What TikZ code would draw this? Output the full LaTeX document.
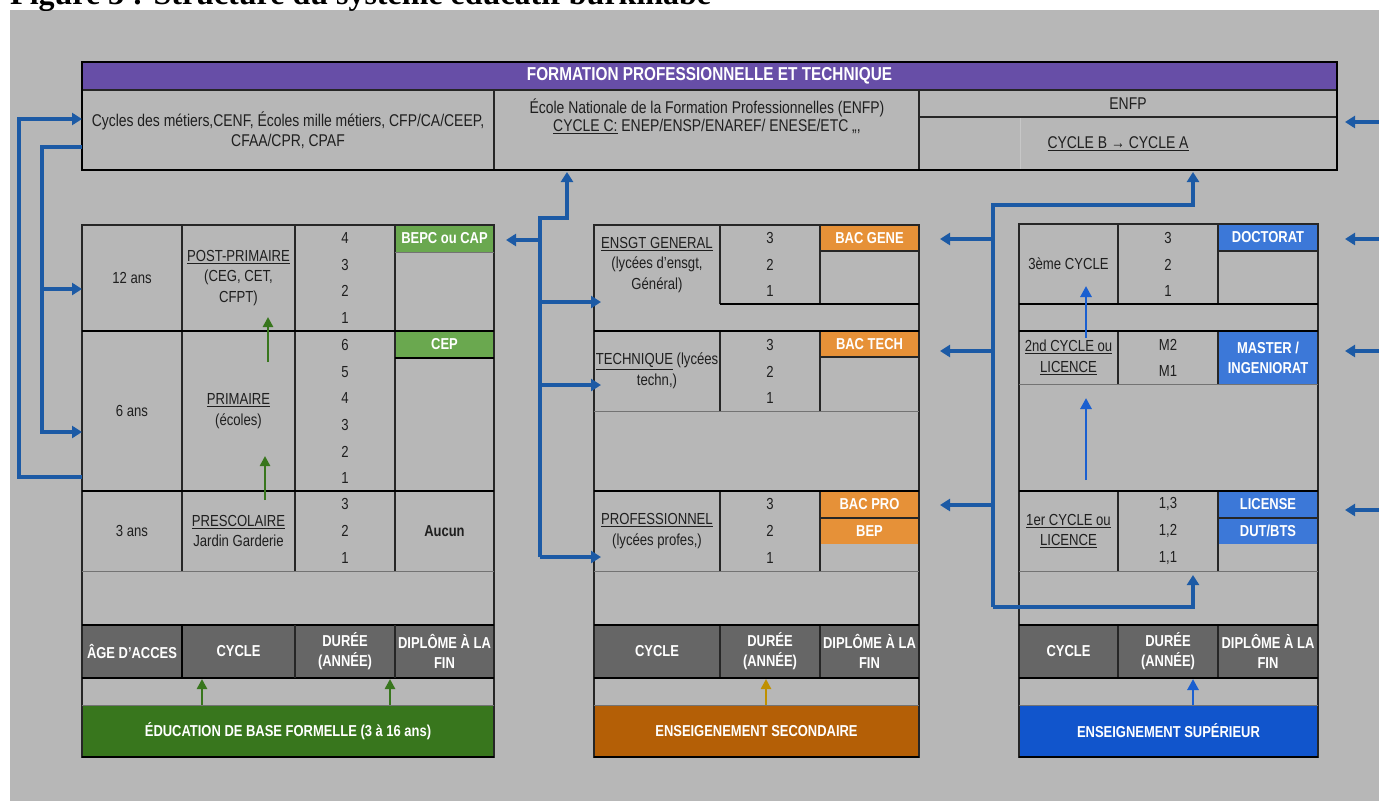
\documentclass[tikz,border=0pt]{standalone}
\usepackage{fontspec}
\setmainfont{Liberation Sans}[FakeStretch=0.82]
\newfontfamily\titlefont{Liberation Serif}
\usetikzlibrary{arrows.meta,calc}
\definecolor{bgc}{HTML}{B7B7B7}
\definecolor{dhead}{HTML}{666666}
\definecolor{purp}{HTML}{674EA7}
\definecolor{dgreen}{HTML}{6AA84F}
\definecolor{dorange}{HTML}{E69138}
\definecolor{dblue}{HTML}{3C78D8}
\definecolor{fgreen}{HTML}{38761D}
\definecolor{forange}{HTML}{B45F06}
\definecolor{fblue}{HTML}{1155CC}
\definecolor{cblue}{HTML}{1C5AA5}
\definecolor{bblue}{HTML}{1A5FD0}
\definecolor{gold}{HTML}{BF9000}
\definecolor{txt}{HTML}{1F1F1F}
\newcommand\ntext{\fontsize{16}{20.5}\selectfont}
\newcommand\ftext{\fontsize{17}{20}\selectfont}
\newcommand\numtext{\fontsize{16}{26.7}\selectfont}
\newcommand\btext{\bfseries\fontsize{15.8}{20}\selectfont}
\newcommand\mkcell[7][]{%
  \node[cellbase,#1,minimum width={(#5-#3)*1pt},minimum height={(#6-#4)*1pt}]
    (#2) at ({(#3+#5)/2},{(#4+#6)/2}) {#7};}
\tikzset{
  cellbase/.style={inner sep=0pt,outer sep=0pt,align=center,font=\ntext,text=txt},
  wtext/.style={text=white,font=\btext},
  lbl/.style={inner sep=0pt,align=center,font=\ntext,text=txt},
  nums/.style={inner sep=0pt,align=center,font=\numtext,text=txt},
  thk/.style={line width=2pt,draw=black},
  mid/.style={line width=1.3pt,draw=black!85},
  thn/.style={line width=1pt,draw=black!55},
  conn/.style={draw=cblue,line width=3.2pt},
  arr/.style={-{Triangle[length=10pt,width=12pt]}},
  garr/.style={draw=fgreen,line width=2.6pt,-{Triangle[length=10pt,width=10pt]}},
  oarr/.style={draw=gold,line width=2.6pt,-{Triangle[length=10pt,width=10pt]}},
  barr/.style={draw=bblue,line width=2.8pt,-{Triangle[length=11pt,width=11pt]}},
}
\begin{document}
\begin{tikzpicture}[x=1pt,y=-1pt]
\useasboundingbox (0,0) rectangle (1379,801);
\fill[white] (0,0) rectangle (1379,801);
\fill[bgc] (10,10) rectangle (1379,801);
\begin{scope}
\clip (0,0) rectangle (1379,10);
\node[anchor=base west,inner sep=0pt,font=\titlefont\bfseries\fontsize{32}{36}\selectfont] (title) at (10,4.5) {\underline{Figure 3} : Structure du système éducatif burkinabè};
\end{scope}

% ---------------- FPT box
\mkcell[fill=purp,text=white,font=\bfseries\fontsize{18.7}{21}\selectfont]{fptH}{82}{62}{1337}{90}{FORMATION PROFESSIONNELLE ET TECHNIQUE}
\mkcell[font=\ftext]{fptL}{82}{90}{494}{170}{Cycles des métiers,CENF, Écoles mille métiers, CFP/CA/CEEP,\\CFAA/CPR, CPAF}
\mkcell{fptM}{494}{90}{919}{170}{}
\node[lbl,font=\fontsize{17}{18}\selectfont] (fptMt) at (707,116) {École Nationale de la Formation Professionnelles (ENFP)\\\underline{CYCLE C:} ENEP/ENSP/ENAREF/ ENESE/ETC ,,,};
\mkcell[font=\ftext]{fptR1}{919}{90}{1337}{117}{ENFP}
\mkcell{fptR2}{919}{117}{1337}{170}{}
\node[lbl,font=\ftext] (fptR2t) at (1118,144) {\underline{CYCLE B → CYCLE A}};

% ---------------- Left block
\mkcell{l_age1}{82}{225}{182}{331}{12 ans}
\mkcell{l_age2}{82}{331}{182}{491}{6 ans}
\mkcell{l_age3}{82}{491}{182}{571}{3 ans}
\mkcell{l_cyc1}{182}{225}{295}{331}{\underline{POST-PRIMAIRE}\\(CEG, CET,\\CFPT)}
\mkcell{l_cyc2}{182}{331}{295}{491}{\underline{PRIMAIRE}\\(écoles)}
\mkcell{l_cyc3}{182}{491}{295}{571}{\underline{PRESCOLAIRE}\\Jardin Garderie}
\mkcell{l_dur}{295}{225}{395}{571}{}
\node[nums] (l_n1) at (345,278) {4\\3\\2\\1};
\node[nums] (l_n2) at (345,411.5) {6\\5\\4\\3\\2\\1};
\node[nums] (l_n3) at (345,531) {3\\2\\1};
\mkcell[fill=dgreen,wtext]{l_dip1}{395}{225}{494}{252}{BEPC ou CAP}
\mkcell[fill=dgreen,wtext]{l_dip2}{395}{331}{494}{358}{CEP}
\mkcell[font=\btext]{l_dip3}{395}{491}{494}{571}{Aucun}
\mkcell[fill=dhead,wtext]{lh1}{82}{625}{182}{678}{ÂGE D'ACCES}
\mkcell[fill=dhead,wtext]{lh2}{182}{625}{295}{678}{CYCLE}
\mkcell[fill=dhead,wtext]{lh3}{295}{625}{395}{678}{DURÉE\\(ANNÉE)}
\mkcell[fill=dhead,wtext]{lh4}{395}{625}{494}{678}{DIPLÔME À LA\\FIN}
\mkcell[fill=fgreen,wtext]{l_foot}{82}{705}{494}{757}{ÉDUCATION DE BASE FORMELLE (3 à 16 ans)}

% ---------------- Middle block
\mkcell{m_cyc1}{594}{225}{720}{331}{}
\node[lbl] (m_cyc1t) at (657,265) {\underline{ENSGT GENERAL}\\(lycées d'ensgt,\\Général)};
\mkcell{m_cyc2}{594}{331}{720}{411}{\underline{TECHNIQUE} (lycées\\techn,)}
\mkcell{m_cyc3}{594}{491}{720}{571}{\underline{PROFESSIONNEL}\\(lycées profes,)}
\node[nums] (m_n1) at (770,264.5) {3\\2\\1};
\node[nums] (m_n2) at (770,371.5) {3\\2\\1};
\node[nums] (m_n3) at (770,531) {3\\2\\1};
\mkcell[fill=dorange,wtext]{m_dip1}{820}{225}{919}{251}{BAC GENE}
\mkcell[fill=dorange,wtext]{m_dip2}{820}{331}{919}{357}{BAC TECH}
\mkcell[fill=dorange,wtext]{m_dip3}{820}{491}{919}{518}{BAC PRO}
\mkcell[fill=dorange,wtext]{m_dip4}{820}{518}{919}{544}{BEP}
\mkcell[fill=dhead,wtext]{mh1}{594}{625}{720}{678}{CYCLE}
\mkcell[fill=dhead,wtext]{mh2}{720}{625}{820}{678}{DURÉE\\(ANNÉE)}
\mkcell[fill=dhead,wtext]{mh3}{820}{625}{919}{678}{DIPLÔME À LA\\FIN}
\mkcell[fill=forange,wtext]{m_foot}{594}{705}{919}{757}{ENSEIGENEMENT SECONDAIRE}

% ---------------- Right block
\mkcell{r_cyc1}{1019}{224}{1118}{304}{3ème CYCLE}
\mkcell{r_cyc2}{1019}{331}{1118}{384}{\underline{2nd CYCLE ou}\\\underline{LICENCE}}
\mkcell{r_cyc3}{1019}{491}{1118}{571}{\underline{1er CYCLE ou}\\\underline{LICENCE}}
\mkcell{r_dur3}{1118}{491}{1218}{571}{}
\node[nums] (r_n1) at (1168,264.5) {3\\2\\1};
\node[nums] (r_n2) at (1168,358) {M2\\M1};
\node[nums] (r_n3) at (1168,531) {1,3\\1,2\\1,1};
\mkcell[fill=dblue,wtext]{r_dip1}{1218}{224}{1318}{251}{DOCTORAT}
\mkcell[fill=dblue,wtext]{r_dip2}{1218}{331}{1318}{384}{MASTER /\\INGENIORAT}
\mkcell[fill=dblue,wtext]{r_dip3}{1218}{491}{1318}{518}{LICENSE}
\mkcell[fill=dblue,wtext]{r_dip4}{1218}{518}{1318}{544}{DUT/BTS}
\mkcell[fill=dhead,wtext]{rh1}{1019}{625}{1118}{678}{CYCLE}
\mkcell[fill=dhead,wtext]{rh2}{1118}{625}{1218}{678}{DURÉE\\(ANNÉE)}
\mkcell[fill=dhead,wtext]{rh3}{1218}{625}{1318}{678}{DIPLÔME À LA\\FIN}
\mkcell[fill=fblue,wtext]{r_foot}{1019}{705}{1318}{757}{ENSEIGNEMENT SUPÉRIEUR}

% ---------------- grid lines
% FPT
\draw[mid] (82,90) -- (1337,90);
\draw[mid] (494,90) -- (494,170) (919,90) -- (919,170) (919,117) -- (1337,117);
\draw[line width=0.8pt,draw=black!22] (1020,118) -- (1020,169);
\draw[thk] (82,62) rectangle (1337,170);
% left
\draw[mid] (82,225) rectangle (494,757);
\draw[mid] (182,225) -- (182,571) (295,225) -- (295,571) (395,225) -- (395,571);
\draw[thn] (395,252) -- (494,252) (82,571) -- (494,571) (82,705) -- (494,705);
\draw[thk] (395,358) -- (494,358);
\draw[thk] (82,331) -- (494,331) (82,491) -- (494,491) (82,625) -- (494,625) (82,678) -- (494,678) (82,757) -- (494,757);
\draw[thk] (182,625) -- (182,678);
\draw[mid] (295,625) -- (295,678) (395,625) -- (395,678);
% middle
\draw[mid] (594,225) rectangle (919,757);
\draw[mid] (720,225) -- (720,304) (820,225) -- (820,304)
           (720,331) -- (720,411) (820,331) -- (820,411)
           (720,491) -- (720,571) (820,491) -- (820,571)
           (720,625) -- (720,678) (820,625) -- (820,678);
\draw[mid] (820,251) -- (919,251) (820,357) -- (919,357) (820,518) -- (919,518);
\draw[thn] (594,411) -- (919,411) (594,571) -- (919,571) (594,705) -- (919,705);
\draw[thk] (720,304) -- (919,304) (594,331) -- (919,331) (594,491) -- (919,491) (594,625) -- (919,625) (594,678) -- (919,678) (594,757) -- (919,757);
% right
\draw[mid] (1019,224) rectangle (1318,757);
\draw[mid] (1118,224) -- (1118,304) (1218,224) -- (1218,304)
           (1118,331) -- (1118,384) (1218,331) -- (1218,384)
           (1118,491) -- (1118,571) (1218,491) -- (1218,571)
           (1118,625) -- (1118,678) (1218,625) -- (1218,678);
\draw[mid] (1218,251) -- (1318,251) (1218,518) -- (1318,518);
\draw[thn] (1019,384) -- (1318,384) (1019,571) -- (1318,571) (1019,705) -- (1318,705);
\draw[thk] (1019,304) -- (1318,304) (1019,331) -- (1318,331) (1019,491) -- (1318,491) (1019,625) -- (1318,625) (1019,678) -- (1318,678) (1019,757) -- (1318,757);

% ---------------- connectors
\coordinate (jL1) at (19,300);
\coordinate (jL2) at (42,289);
\draw[conn,arr] ([yshift=-66pt]l_age2.west) -| (jL1) |- ([yshift=11pt]fptL.west);
\draw[conn,arr] ([yshift=-17pt]fptL.west) -| (jL2) |- ([yshift=-21pt]l_age2.west);
\draw[conn,arr] (jL2) -- (l_age1.west |- jL2);

\coordinate (jM0) at (540,218);
\coordinate (jM1) at (540,557);
\coordinate (jM2) at (567,218);
\draw[conn,arr] (jM1) -- (jM0) -- (jM2) -- ([yshift=-2pt]fptM.south -| jM2);
\draw[conn,arr] (jM0 |- 0,240) -- ([xshift=12pt]l_dip1.east |- 0,240);
\draw[conn,arr] (jM0 |- 0,302) -- ([xshift=7pt]m_cyc1.west |- 0,302);
\draw[conn,arr] (jM0 |- 0,385) -- ([xshift=7pt]m_cyc2.west |- 0,385);
\draw[conn,arr] (jM1) -- ([xshift=7pt]m_cyc3.west |- jM1);

\coordinate (jR0) at (993,205);
\coordinate (jR1) at (993,607);
\draw[conn,arr] (jR1) -- (jR0) -| ([xshift=65pt,yshift=-2pt]fptR2.south);
\draw[conn,arr] (jR1) -| ([xshift=25pt,yshift=-4pt]r_dur3.south);
\coordinate (tR1) at (940,239);
\coordinate (tR2) at (940,351);
\coordinate (tR3) at (940,505);
\draw[conn,arr] (jR0 |- tR1) -- (tR1);
\draw[conn,arr] (jR0 |- tR2) -- (tR2);
\draw[conn,arr] (jR0 |- tR3) -- (tR3);

\coordinate (eA) at (1379,122); \coordinate (eAt) at (1345,122);
\coordinate (eB) at (1379,239); \coordinate (eBt) at (1345,239);
\coordinate (eC) at (1379,351); \coordinate (eCt) at (1345,351);
\coordinate (eD) at (1379,510); \coordinate (eDt) at (1345,510);
\draw[conn,arr] (eA) -- (eAt);
\draw[conn,arr] (eB) -- (eBt);
\draw[conn,arr] (eC) -- (eCt);
\draw[conn,arr] (eD) -- (eDt);

% internal arrows
\draw[garr] ([xshift=26.5pt,yshift=-9pt]l_cyc3.north) -- ([xshift=26.5pt,yshift=35pt]l_cyc2.south);
\draw[garr] ([xshift=29.5pt,yshift=-31pt]l_cyc2.north) -- ([xshift=29.5pt,yshift=14pt]l_cyc1.south);
\draw[garr] ([xshift=-86pt]l_foot.north) -- ([xshift=-86pt,yshift=-1pt]l_foot.north |- lh1.south);
\draw[garr] ([xshift=102pt]l_foot.north) -- ([xshift=102pt,yshift=-1pt]l_foot.north |- lh1.south);
\draw[oarr] ([xshift=9.5pt]m_foot.north) -- ([xshift=9.5pt,yshift=-1pt]m_foot.north |- mh1.south);
\draw[barr] ([xshift=24.5pt]r_foot.north) -- ([xshift=24.5pt,yshift=-1pt]r_foot.north |- rh1.south);
\draw[barr] ([xshift=17.5pt,yshift=11pt]r_cyc3.north) -- ([xshift=17.5pt,yshift=-14pt]r_cyc2.south);
\draw[barr] ([xshift=17.5pt,yshift=-7pt]r_cyc2.north) -- ([xshift=17.5pt,yshift=18pt]r_cyc1.south);
\end{tikzpicture}
\end{document}
